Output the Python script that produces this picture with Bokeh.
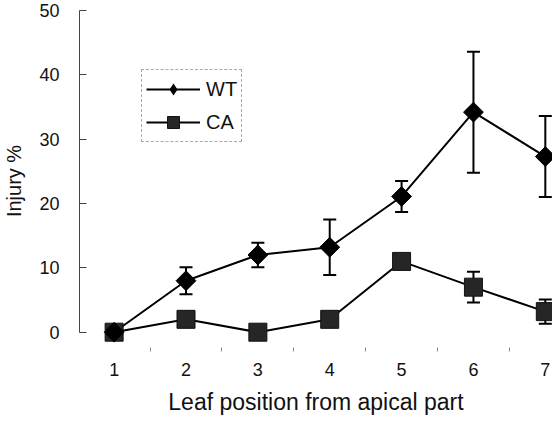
import math
from bokeh.plotting import figure
from bokeh.models import (ColumnDataSource, Range1d, FixedTicker, Whisker, TeeHead,
                          Legend, LegendItem)
from bokeh.embed import file_html
from bokeh.resources import INLINE

# ---- data ----
leaf_position = [1, 2, 3, 4, 5, 6, 7]
wt_injury = [0, 8.0, 12.0, 13.2, 21.1, 34.2, 27.3]
wt_error = [0, 2.1, 1.9, 4.3, 2.4, 9.4, 6.3]
ca_injury = [0, 2.0, 0, 2.0, 11.0, 7.0, 3.2]
ca_error = [0, 0, 0, 0, 0, 2.4, 1.9]
y_ticks = [0, 10, 20, 30, 40, 50]
x_minor_ticks = [1.5, 2.5, 3.5, 4.5, 5.5, 6.5]

FONT = "Liberation Sans"

p = figure(width=552, height=417, output_backend="svg", toolbar_location=None,
           x_range=Range1d(0.518, 7.10), y_range=Range1d(-3, 50),
           min_border_left=74, min_border_right=0, min_border_top=10,
           min_border_bottom=65)
p.outline_line_color = None
p.xgrid.visible = False
p.ygrid.visible = False
p.background_fill_color = "white"
p.border_fill_color = "white"

# y axis
ya = p.yaxis[0]
ya.ticker = FixedTicker(ticks=y_ticks)
ya.bounds = (0, 50)
ya.axis_line_color = "#444444"
ya.axis_line_width = 1
ya.major_tick_in = 7
ya.major_tick_out = 0
ya.major_tick_line_color = "#444444"
ya.minor_tick_line_color = None
ya.major_label_text_font = FONT
ya.major_label_text_font_size = "18px"
ya.major_label_text_color = "#111111"
ya.major_label_standoff = 20
ya.axis_label = "Injury %"
ya.axis_label_text_font = FONT
ya.axis_label_text_font_size = "20px"
ya.axis_label_text_font_style = "normal"
ya.axis_label_text_color = "#111111"
ya.axis_label_standoff = 11

# x axis
xa = p.xaxis[0]
xa.ticker = FixedTicker(ticks=leaf_position, minor_ticks=x_minor_ticks)
xa.axis_line_color = None
xa.major_tick_line_color = None
xa.minor_tick_in = 4
xa.minor_tick_out = 0
xa.minor_tick_line_color = "#888888"
xa.major_label_text_font = FONT
xa.major_label_text_font_size = "18px"
xa.major_label_text_color = "#111111"
xa.major_label_standoff = 5
xa.axis_label = "Leaf position from apical part"
xa.axis_label_text_font = FONT
xa.axis_label_text_font_size = "23px"
xa.axis_label_text_font_style = "normal"
xa.axis_label_text_color = "#111111"
xa.axis_label_standoff = 10

wt_src = ColumnDataSource(dict(x=leaf_position, y=wt_injury))
ca_src = ColumnDataSource(dict(x=leaf_position, y=ca_injury))

def err_source(xs, ys, es):
    idx = [i for i, e in enumerate(es) if e > 0]
    return ColumnDataSource(dict(
        x=[xs[i] for i in idx],
        upper=[ys[i] + es[i] for i in idx],
        lower=[ys[i] - es[i] for i in idx]))

for src in (err_source(leaf_position, wt_injury, wt_error),
            err_source(leaf_position, ca_injury, ca_error)):
    w = Whisker(source=src, base="x", upper="upper", lower="lower",
                line_color="black", line_width=2,
                upper_head=TeeHead(size=13, line_width=2, line_color="black"),
                lower_head=TeeHead(size=13, line_width=2, line_color="black"))
    p.add_layout(w)

wt_line = p.line("x", "y", source=wt_src, line_color="black", line_width=2)
ca_line = p.line("x", "y", source=ca_src, line_color="black", line_width=2)
ca_pts = p.scatter("x", "y", source=ca_src, marker="square", size=18,
                   fill_color="#262626", line_color="#111111", line_width=1)
wt_pts = p.scatter("x", "y", source=wt_src, marker="square", size=14,
                   angle=math.pi / 4, fill_color="black", line_color="black",
                   line_width=1)
# zero-size proxy so the legend shows a diamond (legend ignores marker angle)
wt_key = p.scatter("x", "y", source=wt_src, marker="diamond", size=0,
                   fill_color="black", line_color=None)

legend = Legend(items=[LegendItem(label="WT", renderers=[wt_line, wt_key]),
                       LegendItem(label="CA", renderers=[ca_line, ca_pts])],
                location=(62, 209), orientation="vertical")
legend.label_text_font = FONT
legend.label_text_font_size = "20px"
legend.label_text_color = "#111111"
legend.glyph_width = 54
legend.glyph_height = 30
legend.label_height = 30
legend.label_standoff = 6
legend.spacing = 3
legend.padding = 4
legend.margin = 0
legend.border_line_color = "#555555"
legend.border_line_width = 1
legend.border_line_dash = "6 2"
legend.background_fill_color = "white"
legend.background_fill_alpha = 1
p.add_layout(legend, "center")

open("out.html", "w").write(file_html(p, INLINE))
